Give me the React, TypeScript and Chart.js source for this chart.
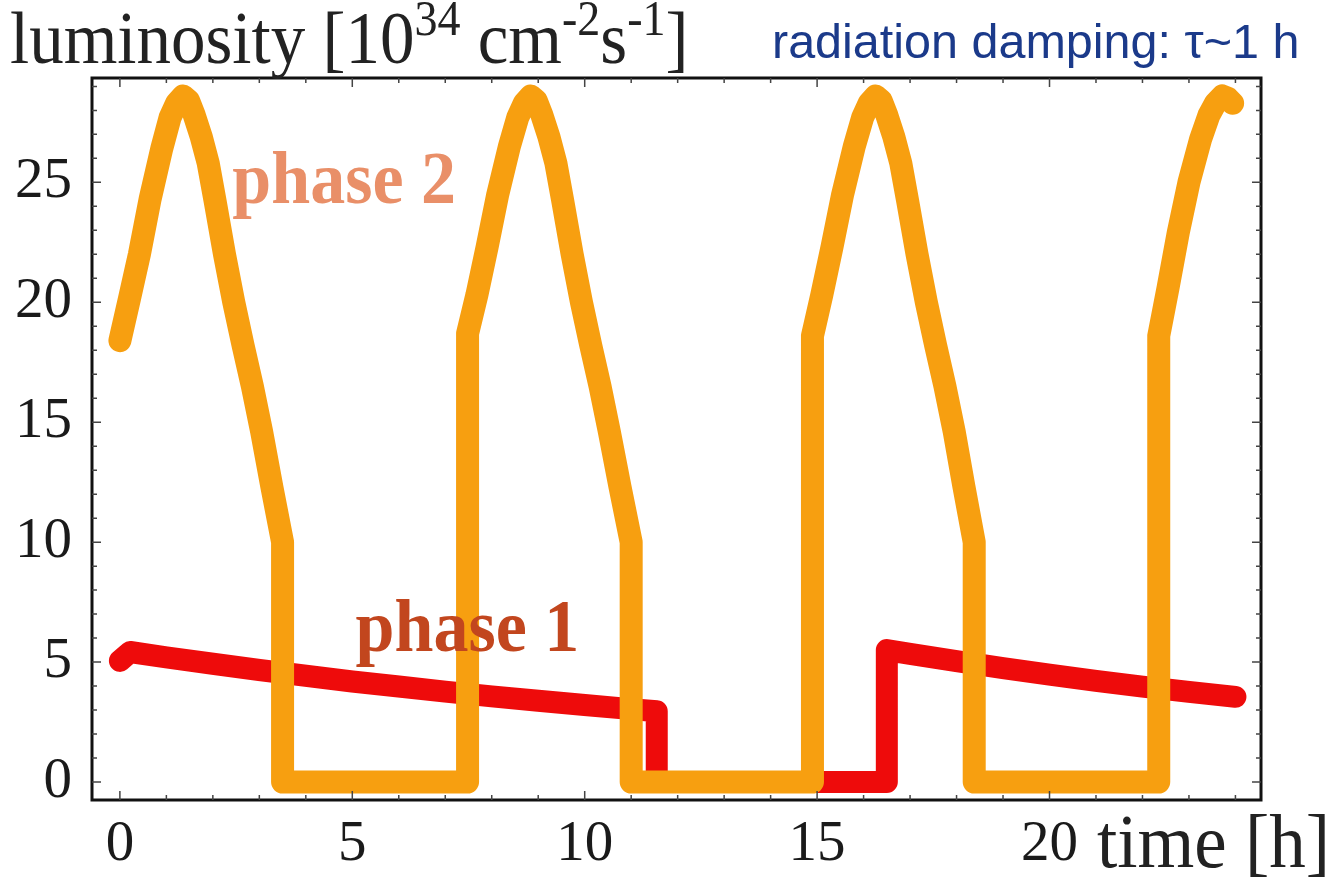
import { useEffect, useRef } from "react";
import { Chart, registerables } from "chart.js";

Chart.register(...registerables);

// ---- data ----
// phase 2 (orange): luminosity [1e34 cm^-2 s^-1] vs time [h]
const phase2Time = [
  0, 0.2, 0.42, 0.65, 0.9, 1.08, 1.22, 1.36, 1.48, 1.6, 1.75, 1.9, 2.05, 2.25, 2.45, 2.65, 2.85, 3.05, 3.27, 3.5, 3.5,
  7.48, 7.48, 7.68, 7.9, 8.13, 8.38, 8.56, 8.7, 8.84, 8.96, 9.08, 9.23, 9.38, 9.53, 9.73, 9.93, 10.13, 10.33, 10.53, 10.76, 11.0, 11.0,
  14.9, 14.9, 15.1, 15.32, 15.55, 15.8, 15.98, 16.12, 16.26, 16.38, 16.5, 16.65, 16.8, 16.95, 17.15, 17.35, 17.55, 17.75, 17.95, 18.16, 18.38, 18.38,
  22.35, 22.35, 22.55, 22.77, 23.0, 23.25, 23.43, 23.57, 23.72, 23.84, 23.94,
];
const phase2Lumi = [
  18.4, 20.1, 22.0, 24.3, 26.4, 27.7, 28.3, 28.6, 28.4, 27.8, 26.9, 25.8, 24.2, 22.0, 20.0, 18.2, 16.5, 14.6, 12.3, 10.0, 0,
  0, 18.7, 20.3, 22.3, 24.5, 26.5, 27.7, 28.3, 28.6, 28.4, 27.8, 26.9, 25.8, 24.2, 22.0, 20.0, 18.2, 16.5, 14.6, 12.3, 10.0, 0,
  0, 18.6, 20.3, 22.3, 24.5, 26.5, 27.7, 28.3, 28.6, 28.4, 27.8, 26.9, 25.8, 24.2, 22.0, 20.0, 18.2, 16.5, 14.6, 12.3, 10.0, 0,
  0, 18.6, 20.6, 22.9, 25.0, 26.8, 27.8, 28.3, 28.6, 28.5, 28.3,
];

// phase 1 (red)
const phase1Time = [
  0, 0.22, 1, 2, 3, 4, 5, 6, 7, 8, 9, 10, 11, 11.55, 11.55,
  16.5, 16.5, 17, 18, 19, 20, 21, 22, 23, 24.0,
];
const phase1Lumi = [
  5.05, 5.42, 5.2, 4.93, 4.67, 4.43, 4.19, 3.98, 3.77, 3.57, 3.39, 3.21, 3.04, 2.95, 0,
  0, 5.5, 5.34, 5.04, 4.75, 4.48, 4.22, 3.98, 3.76, 3.55,
];

const xTickLabels = [0, 5, 10, 15, 20];
const yTickLabels = [0, 5, 10, 15, 20, 25];
const xMinorTicks = [0, 1, 2, 3, 4, 5, 6, 7, 8, 9, 10, 11, 12, 13, 14, 15, 16, 17, 18, 19, 20, 21, 22, 23, 24];
const yMinorTicks = [0, 1, 2, 3, 4, 5, 6, 7, 8, 9, 10, 11, 12, 13, 14, 15, 16, 17, 18, 19, 20, 21, 22, 23, 24, 25, 26, 27, 28, 29];

const SERIF = "'Liberation Serif', 'Times New Roman', serif";
const SANS = "'Liberation Sans', Arial, sans-serif";

const ORANGE = "#F79F10";
const RED = "#EE0B0B";

function drawText(ctx: CanvasRenderingContext2D, text: string, x: number, y: number, font: string, sy = 1) {
  ctx.save();
  ctx.font = font;
  ctx.translate(x, y);
  ctx.scale(1, sy);
  ctx.fillText(text, 0, 0);
  const w = ctx.measureText(text).width;
  ctx.restore();
  return w;
}

const decorPlugin = {
  id: "decor",
  afterDatasetsDraw(chart: any) {
    const { ctx, chartArea, scales } = chart;
    const xs = scales.x;
    const ys = scales.y;
    ctx.save();
    ctx.textBaseline = "alphabetic";
    ctx.textAlign = "left";

    // phase labels (placed in data coordinates)
    ctx.fillStyle = "#E98F68";
    drawText(ctx, "phase 2", xs.getPixelForValue(2.42), ys.getPixelForValue(24.15), `bold 70px ${SERIF}`, 1.06);
    ctx.fillStyle = "#C2461E";
    drawText(ctx, "phase 1", xs.getPixelForValue(5.07), ys.getPixelForValue(5.45), `bold 70px ${SERIF}`, 1.06);

    // frame
    ctx.strokeStyle = "#111";
    ctx.lineWidth = 3;
    ctx.strokeRect(chartArea.left, chartArea.top, chartArea.right - chartArea.left, chartArea.bottom - chartArea.top);

    // inward ticks on all four sides
    ctx.lineWidth = 1.5;
    ctx.strokeStyle = "#444";
    for (const v of xMinorTicks) {
      const px = xs.getPixelForValue(v);
      const len = v % 5 === 0 ? 9 : 5;
      ctx.beginPath();
      ctx.moveTo(px, chartArea.bottom);
      ctx.lineTo(px, chartArea.bottom - len);
      ctx.moveTo(px, chartArea.top);
      ctx.lineTo(px, chartArea.top + len);
      ctx.stroke();
    }
    for (const v of yMinorTicks) {
      const py = ys.getPixelForValue(v);
      const len = v % 5 === 0 ? 9 : 5;
      ctx.beginPath();
      ctx.moveTo(chartArea.left, py);
      ctx.lineTo(chartArea.left + len, py);
      ctx.moveTo(chartArea.right, py);
      ctx.lineTo(chartArea.right - len, py);
      ctx.stroke();
    }

    // y-axis title with superscripts
    ctx.fillStyle = "#222";
    let x = 10;
    const base = 63;
    const big = `69px ${SERIF}`;
    const sup = `46px ${SERIF}`;
    const parts: [string, boolean][] = [
      ["luminosity [10", false],
      ["34", true],
      [" cm", false],
      ["-2", true],
      ["s", false],
      ["-1", true],
      ["]", false],
    ];
    for (const [t, s] of parts) {
      x += drawText(ctx, t, x, s ? base - 28 : base, s ? sup : big, 1.08);
    }

    // x-axis title
    drawText(ctx, "time [h]", 1097, 867, `73px ${SERIF}`, 1.04);

    // annotation
    ctx.fillStyle = "#1B3A8A";
    drawText(ctx, "radiation damping: \u03c4~1 h", 772, 58, `48.5px ${SANS}`, 1.0);

    ctx.restore();
  },
};

export default function App() {
  const ref = useRef<HTMLCanvasElement | null>(null);

  useEffect(() => {
    if (!ref.current) return;
    const p2 = phase2Time.map((t, i) => ({ x: t, y: phase2Lumi[i] }));
    const p1 = phase1Time.map((t, i) => ({ x: t, y: phase1Lumi[i] }));
    const chart = new Chart(ref.current, {
      type: "line",
      data: {
        datasets: [
          {
            label: "phase 2",
            data: p2,
            borderColor: ORANGE,
            borderWidth: 23,
            borderCapStyle: "round",
            borderJoinStyle: "round",
            pointRadius: 0,
            tension: 0,
            fill: false,
            order: 0,
          },
          {
            label: "phase 1",
            data: p1,
            borderColor: RED,
            borderWidth: 22,
            borderCapStyle: "round",
            borderJoinStyle: "round",
            pointRadius: 0,
            tension: 0,
            fill: false,
            order: 1,
          },
        ],
      },
      options: {
        responsive: false,
        animation: false,
        events: [],
        layout: { padding: { top: 78, right: 76, left: 0, bottom: 0 } },
        plugins: {
          legend: { display: false },
          tooltip: { enabled: false },
          title: { display: false },
        },
        scales: {
          x: {
            type: "linear",
            min: -0.6,
            max: 24.55,
            grid: { display: false, drawTicks: false },
            border: { display: false },
            afterBuildTicks: (s: any) => {
              s.ticks = xTickLabels.map((v) => ({ value: v }));
            },
            afterFit: (s: any) => {
              s.height = 84;
            },
            ticks: {
              autoSkip: false,
              maxRotation: 0,
              padding: 11,
              color: "#1a1a1a",
              font: { family: SERIF, size: 57 },
            },
          },
          y: {
            type: "linear",
            min: -0.75,
            max: 29.35,
            grid: { display: false, drawTicks: false },
            border: { display: false },
            afterBuildTicks: (s: any) => {
              s.ticks = yTickLabels.map((v) => ({ value: v }));
            },
            afterFit: (s: any) => {
              s.width = 92;
            },
            ticks: {
              autoSkip: false,
              padding: 20,
              color: "#1a1a1a",
              font: { family: SERIF, size: 57 },
            },
          },
        },
      },
      plugins: [decorPlugin],
    } as any);
    return () => chart.destroy();
  }, []);

  return (
    <div style={{ position: "absolute", left: 0, top: 0, width: 1337, height: 884, background: "#fff" }}>
      <canvas ref={ref} width={1337} height={884} style={{ width: 1337, height: 884, display: "block" }} />
    </div>
  );
}
